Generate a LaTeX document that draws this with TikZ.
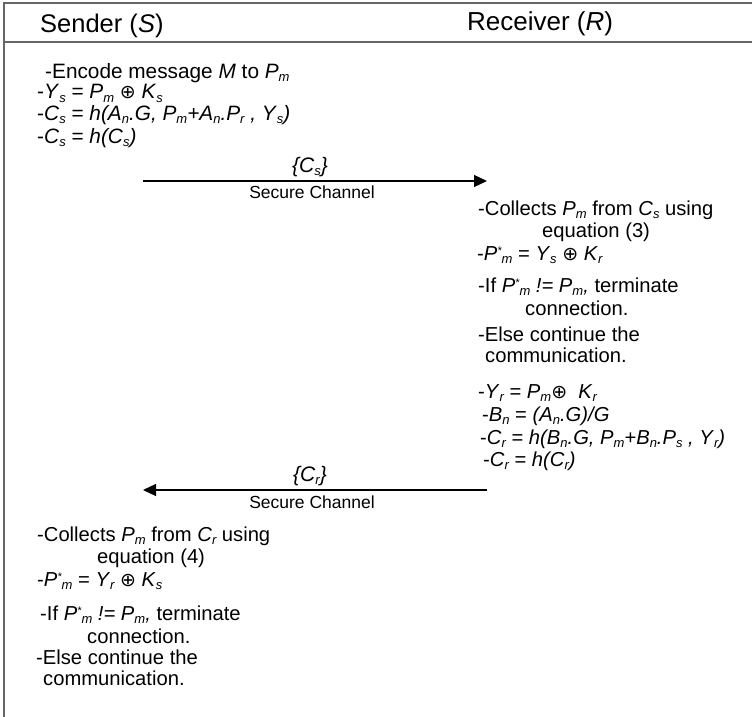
\documentclass[tikz,border=0pt]{standalone}
\usepackage{fontspec}
\setmainfont{Liberation Sans}
\newfontfamily\symfont{DejaVu Sans}
\usetikzlibrary{arrows.meta}

% subscripts, superscripts and the XOR sign used in the protocol steps
\newcommand\sbs[1]{\raisebox{-0.3ex}{\fontsize{13}{13}\selectfont\itshape #1}}
\newcommand\sps[1]{\raisebox{0.5ex}{\fontsize{11}{11}\selectfont\itshape #1}}
\newcommand\xor{{\symfont\fontsize{19}{19}\selectfont ⊕}}

\tikzset{
  frame/.style={draw=black!60, line width=1.4pt},
  head/.style={anchor=base west, inner sep=0pt, font=\fontsize{25.5}{29}\selectfont},
  txt/.style={anchor=base west, inner sep=0pt, font=\fontsize{20.2}{23}\selectfont},
  wide/.style={txt, font=\fontsize{20.8}{23}\selectfont},
  lbl/.style={inner sep=0pt, font=\fontsize{17.5}{20}\selectfont},
  key/.style={inner sep=0pt, font=\fontsize{21}{23}\selectfont},
  msg/.style={draw=black, line width=1.3pt, -{Triangle[length=13pt,width=12pt]}},
}

\begin{document}
\begin{tikzpicture}[x=1pt,y=-1pt]
\useasboundingbox (0,0) rectangle (752,717);

% swim-lane frame
\draw[frame] (752,3) -- (4,3) -- (4,717);
\draw[frame] (4,42) -- (752,42);

% lane titles
\node[head] (sender) at (40,33) {Sender (\textit{S})};
\node[head, font=\fontsize{26}{30}\selectfont] (receiver) at (467,31) {Receiver (\textit{R})};

% sender: preparation
\node[wide] (s1) at (45,78)  {-Encode message \textit{M} to \textit{P}\sbs{m}};
\node[wide] (s2) at (37,99)  {-\textit{Y}\sbs{s} = \textit{P}\sbs{m} \xor{} \textit{K}\sbs{s}};
\node[wide] (s3) at (37,120) {-\textit{C}\sbs{s} = \textit{h(A}\sbs{n}\textit{.G, P}\sbs{m}\textit{+A}\sbs{n}\textit{.P}\sbs{r}\textit{ , Y}\sbs{s}\textit{)}};
\node[wide] (s4) at (37,143) {-\textit{C}\sbs{s} = \textit{h(C}\sbs{s}\textit{)}};

% first message
\coordinate (a1s) at (143,181);
\coordinate (a1r) at (487,181);
\draw[msg] (a1s) -- (a1r);
\node[key] (m1) at (310,167) {\textit{\{C}\sbs{s}\textit{\}}};
\node[lbl] (c1) at (312,192) {Secure Channel};

% receiver: verification
\node[txt] (r1) at (478,215) {-Collects \textit{P}\sbs{m} from \textit{C}\sbs{s} using};
\node[txt] (r2) at (542,237) {equation (3)};
\node[txt] (r3) at (477,260) {-\textit{P}\sps{*}\sbs{m} = \textit{Y}\sbs{s} \xor{} \textit{K}\sbs{r}};
\node[txt] (r4) at (478,292) {-If \textit{P}\sps{*}\sbs{m}\textit{ != P}\sbs{m}\textit{,} terminate};
\node[txt] (r5) at (525,315) {connection.};
\node[txt] (r6) at (478,341) {-Else continue the};
\node[txt] (r7) at (485,362) {communication.};

% receiver: reply
\node[txt] (r8)  at (478,398) {-\textit{Y}\sbs{r} = \textit{P}\sbs{m}\xor{}\ \ \textit{K}\sbs{r}};
\node[txt] (r9)  at (482,421) {-\textit{B}\sbs{n} = \textit{(A}\sbs{n}\textit{.G)/G}};
\node[txt] (r10) at (480,444) {-\textit{C}\sbs{r} = \textit{h(B}\sbs{n}\textit{.G, P}\sbs{m}\textit{+B}\sbs{n}\textit{.P}\sbs{s}\textit{ , Y}\sbs{r}\textit{)}};
\node[txt] (r11) at (483,466) {-\textit{C}\sbs{r} = \textit{h(C}\sbs{r}\textit{)}};

% second message
\coordinate (a2r) at (487,490);
\coordinate (a2s) at (143,490);
\draw[msg] (a2r) -- (a2s);
\node[key] (m2) at (310,476) {\textit{\{C}\sbs{r}\textit{\}}};
\node[lbl] (c2) at (312,502) {Secure Channel};

% sender: verification
\node[txt] (v1) at (37,541) {-Collects \textit{P}\sbs{m} from \textit{C}\sbs{r} using};
\node[txt] (v2) at (97,563) {equation (4)};
\node[txt] (v3) at (37,586) {-\textit{P}\sps{*}\sbs{m} = \textit{Y}\sbs{r} \xor{} \textit{K}\sbs{s}};
\node[txt] (v4) at (40,620) {-If \textit{P}\sps{*}\sbs{m}\textit{ != P}\sbs{m}\textit{,} terminate};
\node[txt] (v5) at (87,643) {connection.};
\node[txt] (v6) at (36,664) {-Else continue the};
\node[txt] (v7) at (43,685) {communication.};
\end{tikzpicture}
\end{document}
